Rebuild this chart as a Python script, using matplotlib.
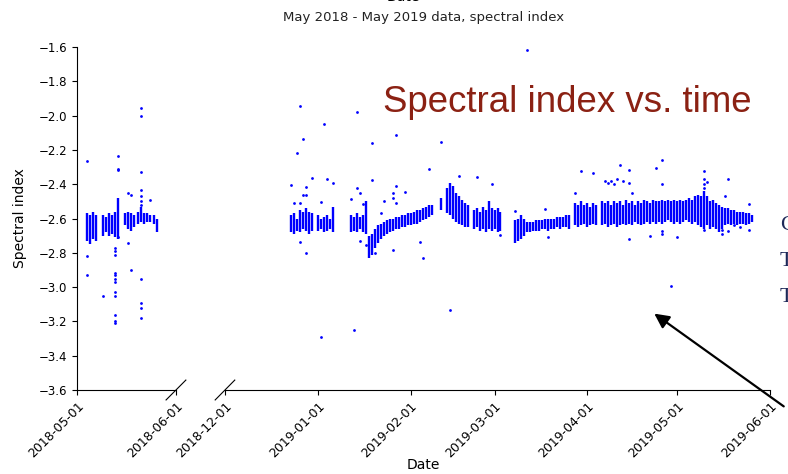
import numpy as np
import pandas as pd
import matplotlib
matplotlib.use("Agg")
import matplotlib.pyplot as plt
import matplotlib.dates as mdates

# daily spread of the spectral index (lowest / highest value of each day)
# May 2018 observing runs
may_runs = [('2018-05-04', '2018-05-07'), ('2018-05-09', '2018-05-14'),
            ('2018-05-16', '2018-05-26')]
may_lo = [-2.73, -2.75, -2.72, -2.73,
          -2.70, -2.68, -2.70, -2.69, -2.71, -2.72,
          -2.64, -2.66, -2.67, -2.65, -2.63, -2.62, -2.63, -2.62, -2.62, -2.63, -2.68]
may_hi = [-2.57, -2.58, -2.56, -2.58,
          -2.58, -2.59, -2.57, -2.58, -2.56, -2.48,
          -2.57, -2.56, -2.57, -2.58, -2.56, -2.53, -2.57, -2.57, -2.58, -2.58, -2.60]

# Dec 2018 - May 2019 observing runs
win_runs = [('2018-12-23', '2018-12-30'), ('2019-01-01', '2019-01-06'),
            ('2019-01-12', '2019-02-08'), ('2019-02-11', '2019-02-11'),
            ('2019-02-13', '2019-02-20'), ('2019-02-22', '2019-03-03'),
            ('2019-03-08', '2019-03-26'), ('2019-03-28', '2019-04-04'),
            ('2019-04-06', '2019-05-26')]
win_lo = [
    -2.68, -2.69, -2.67, -2.68, -2.66, -2.67, -2.69, -2.67,
    -2.67, -2.66, -2.68, -2.67, -2.66, -2.68,
    -2.68, -2.67, -2.68, -2.66, -2.68, -2.69,
    -2.83, -2.81, -2.77, -2.74, -2.72, -2.70, -2.69, -2.68, -2.67, -2.66, -2.66,
    -2.65, -2.65, -2.64, -2.64, -2.63, -2.63, -2.62, -2.61, -2.60, -2.59, -2.58,
    -2.55,
    -2.57, -2.58, -2.60, -2.62, -2.63, -2.64, -2.65, -2.65,
    -2.66, -2.65, -2.67, -2.66, -2.68, -2.66, -2.67, -2.66, -2.68, -2.67,
    -2.74, -2.73, -2.72, -2.70, -2.68, -2.68, -2.67, -2.67, -2.67, -2.66,
    -2.66, -2.67, -2.66, -2.66, -2.65, -2.66, -2.65, -2.65, -2.66,
    -2.64, -2.65, -2.64, -2.63, -2.65, -2.64, -2.63, -2.64,
    -2.64, -2.63, -2.65, -2.64, -2.63, -2.65, -2.64, -2.63, -2.64, -2.63,
    -2.64, -2.62, -2.63, -2.64, -2.63, -2.62, -2.63, -2.62, -2.63, -2.62,
    -2.63, -2.62, -2.61, -2.62, -2.63,
    -2.62, -2.63, -2.62, -2.61, -2.62, -2.63, -2.62, -2.64, -2.65, -2.66,
    -2.64, -2.66, -2.65, -2.66, -2.68, -2.66, -2.64, -2.63, -2.64, -2.63,
    -2.64, -2.63, -2.63, -2.64, -2.63, -2.62]
win_hi = [
    -2.58, -2.57, -2.60, -2.55, -2.56, -2.54, -2.56, -2.57,
    -2.58, -2.60, -2.59, -2.58, -2.60, -2.53,
    -2.58, -2.59, -2.57, -2.59, -2.58, -2.50,
    -2.70, -2.69, -2.66, -2.64, -2.63, -2.62, -2.61, -2.60, -2.60, -2.59, -2.59,
    -2.58, -2.58, -2.57, -2.57, -2.56, -2.55, -2.55, -2.54, -2.53, -2.52, -2.52,
    -2.48,
    -2.42, -2.39, -2.41, -2.45, -2.47, -2.49, -2.51, -2.52,
    -2.55, -2.54, -2.56, -2.53, -2.55, -2.50, -2.54, -2.55, -2.54, -2.56,
    -2.61, -2.60, -2.58, -2.60, -2.62, -2.62, -2.62, -2.61, -2.61, -2.61,
    -2.60, -2.60, -2.60, -2.60, -2.59, -2.59, -2.59, -2.58, -2.58,
    -2.51, -2.52, -2.50, -2.52, -2.51, -2.53, -2.51, -2.52,
    -2.50, -2.51, -2.50, -2.52, -2.50, -2.51, -2.50, -2.52, -2.49, -2.51,
    -2.50, -2.52, -2.50, -2.51, -2.49, -2.50, -2.51, -2.49, -2.50, -2.50,
    -2.49, -2.50, -2.49, -2.50, -2.49,
    -2.50, -2.49, -2.50, -2.49, -2.48, -2.49, -2.47, -2.46, -2.47, -2.44,
    -2.47, -2.50, -2.49, -2.51, -2.52, -2.53, -2.54, -2.54, -2.55, -2.55,
    -2.56, -2.56, -2.56, -2.57, -2.57, -2.58]

# single scattered points
may_out_date = ['2018-05-04', '2018-05-04', '2018-05-04', '2018-05-09',
                '2018-05-13', '2018-05-13', '2018-05-13', '2018-05-13', '2018-05-13',
                '2018-05-13', '2018-05-13', '2018-05-13', '2018-05-13', '2018-05-13',
                '2018-05-13', '2018-05-13',
                '2018-05-14', '2018-05-14', '2018-05-14', '2018-05-14',
                '2018-05-17', '2018-05-17', '2018-05-18', '2018-05-18',
                '2018-05-21', '2018-05-21', '2018-05-21', '2018-05-21', '2018-05-21',
                '2018-05-21', '2018-05-21', '2018-05-21', '2018-05-21', '2018-05-21',
                '2018-05-21', '2018-05-24']
may_out_val = [-2.265, -2.82, -2.93, -3.05,
               -2.77, -2.79, -2.81, -2.92, -2.93, -2.95,
               -2.97, -3.03, -3.05, -3.16, -3.20, -3.21,
               -2.235, -2.31, -2.32, -2.71,
               -2.45, -2.745, -2.46, -2.90,
               -1.955, -2.00, -2.33, -2.435, -2.47, -2.50,
               -2.52, -2.95, -3.09, -3.12, -3.18, -2.49]

win_out_date = ['2018-12-23', '2018-12-24', '2018-12-25', '2018-12-26', '2018-12-26',
                '2018-12-26', '2018-12-27', '2018-12-27', '2018-12-28', '2018-12-28',
                '2018-12-28', '2018-12-30', '2019-01-02', '2019-01-02', '2019-01-03',
                '2019-01-04', '2019-01-06', '2019-01-12', '2019-01-13', '2019-01-14',
                '2019-01-14', '2019-01-15', '2019-01-15', '2019-01-16', '2019-01-17',
                '2019-01-19', '2019-01-19', '2019-01-20', '2019-01-22', '2019-01-23',
                '2019-01-26', '2019-01-26', '2019-01-26', '2019-01-27', '2019-01-27',
                '2019-01-27', '2019-01-30', '2019-02-04', '2019-02-05', '2019-02-07',
                '2019-02-11', '2019-02-14', '2019-02-17', '2019-02-23', '2019-02-28',
                '2019-03-03', '2019-03-08', '2019-03-12', '2019-03-18', '2019-03-19',
                '2019-03-28', '2019-03-30', '2019-04-03', '2019-04-07', '2019-04-08',
                '2019-04-09', '2019-04-10', '2019-04-11', '2019-04-12', '2019-04-13',
                '2019-04-15', '2019-04-15', '2019-04-15', '2019-04-16', '2019-04-22',
                '2019-04-24', '2019-04-26', '2019-04-26', '2019-04-26', '2019-04-26',
                '2019-04-29', '2019-05-01', '2019-05-10', '2019-05-10', '2019-05-10',
                '2019-05-10', '2019-05-10', '2019-05-11', '2019-05-16', '2019-05-16',
                '2019-05-17', '2019-05-18', '2019-05-18', '2019-05-20', '2019-05-22',
                '2019-05-25', '2019-05-25']
win_out_val = [-2.405, -2.512, -2.22, -1.942, -2.51,
               -2.739, -2.138, -2.463, -2.418, -2.463,
               -2.80, -2.366, -2.506, -3.289, -2.05,
               -2.37, -2.39, -2.486, -3.25, -1.977,
               -2.424, -2.45, -2.73, -2.515, -2.755,
               -2.16, -2.375, -2.80, -2.57, -2.50,
               -2.784, -2.45, -2.48, -2.113, -2.41,
               -2.51, -2.444, -2.739, -2.832, -2.313,
               -2.156, -3.133, -2.352, -2.36, -2.40,
               -2.696, -2.554, -1.617, -2.546, -2.71,
               -2.45, -2.321, -2.333, -2.38, -2.39,
               -2.38, -2.40, -2.37, -2.288, -2.38,
               -2.39, -2.317, -2.72, -2.453, -2.70,
               -2.304, -2.259, -2.40, -2.67, -2.69,
               -2.994, -2.71, -2.323, -2.37, -2.40,
               -2.42, -2.667, -2.385, -2.667, -2.69,
               -2.469, -2.37, -2.671, -2.638, -2.648,
               -2.515, -2.667]

yticks = np.round(np.arange(-3.6, -1.59, 0.2), 1)


def run_days(runs):
    return np.concatenate([pd.date_range(a, b, freq='D').values for a, b in runs])


def draw_panel(ax, runs, lo, hi, out_date, out_val):
    days = run_days(runs)
    ax.vlines(days, lo, hi, color='#0000ff', lw=1.7)
    ax.scatter(pd.to_datetime(out_date), out_val, s=4, color='#0000ff', lw=0)
    ax.set_ylim(-3.6, -1.6)
    ax.spines['top'].set_visible(False)
    ax.spines['right'].set_visible(False)
    ax.xaxis.set_major_locator(mdates.MonthLocator())
    ax.xaxis.set_major_formatter(mdates.DateFormatter('%Y-%m-%d'))
    ax.tick_params(axis='x', labelsize=9, labelrotation=45)


fig = plt.figure(figsize=(7.88, 4.74), dpi=100)
ax1 = fig.add_axes([0.0977, 0.1772, 0.1256, 0.7236])
ax2 = fig.add_axes([0.2855, 0.1772, 0.6917, 0.7236])

draw_panel(ax1, may_runs, may_lo, may_hi, may_out_date, may_out_val)
draw_panel(ax2, win_runs, win_lo, win_hi, win_out_date, win_out_val)

ax1.set_xlim(pd.Timestamp('2018-05-01'), pd.Timestamp('2018-06-01'))
ax2.set_xlim(pd.Timestamp('2018-12-01'), pd.Timestamp('2019-06-01'))
for ax in (ax1, ax2):
    for lab in ax.get_xticklabels():
        lab.set_ha('right')
        lab.set_rotation_mode('anchor')
ax1.set_yticks(yticks)
ax1.set_yticklabels([f'{v:.1f}'.replace('-', '\u2212') for v in yticks])
ax1.tick_params(axis='y', labelsize=8.5)
ax2.spines['left'].set_visible(False)
ax2.set_yticks([])

# broken-axis marks
kw = dict(color='k', lw=0.8, clip_on=False)
ax1.plot([1 - 0.1, 1 + 0.1], [-0.029, 0.029], transform=ax1.transAxes, **kw)
ax2.plot([-0.018, 0.018], [-0.029, 0.029], transform=ax2.transAxes, **kw)

fig.text(423.5 / 788, 1 - 18 / 474, 'May 2018 - May 2019 data, spectral index',
         ha='center', va='center', fontsize=9.5, color='#222222')
fig.text(403 / 788, 1.006, 'Date', ha='center', va='center', fontsize=10)
fig.text(423.5 / 788, 1 - 465 / 474, 'Date', ha='center', va='center', fontsize=10)
fig.text(20 / 788, 1 - 218 / 474, 'Spectral index', ha='center', va='center',
         rotation=90, fontsize=10)

fig.text(383 / 788, 1 - 102 / 474, 'Spectral index vs. time', ha='left', va='center',
         fontsize=26.4, color='#8b2113', family='Liberation Sans')

for yy, ch in [(226, 'C'), (262, 'T'), (297, 'T')]:
    fig.text(780 / 788, 1 - yy / 474, ch, ha='left', va='center', fontsize=16,
             color='#1d2858', family='Liberation Serif')

fig.patches.append(matplotlib.patches.FancyArrowPatch(
    (786 / 788, 1 - 408 / 474), (652 / 788, 1 - 312 / 474),
    transform=fig.transFigure, arrowstyle='-|>', mutation_scale=22,
    lw=1.6, color='k'))

fig.savefig('out.png', dpi=100)
